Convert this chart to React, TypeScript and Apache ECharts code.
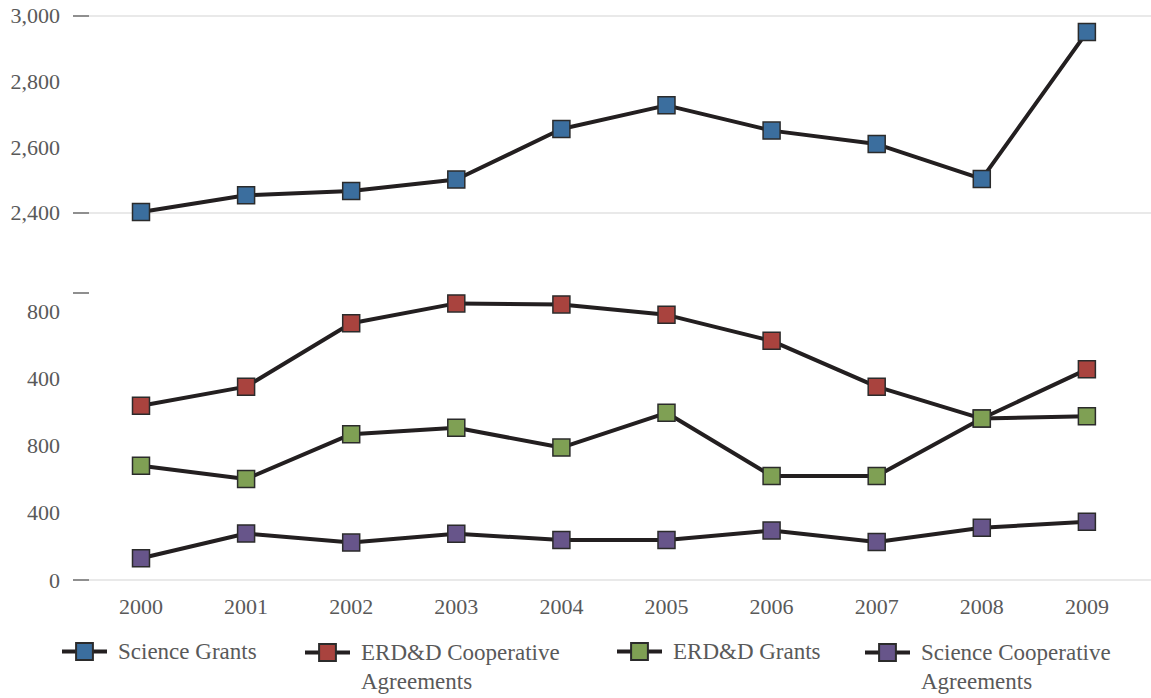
import React, { useEffect, useRef } from "react";
import * as echarts from "echarts";

const years = [2000, 2001, 2002, 2003, 2004, 2005, 2006, 2007, 2008, 2009];
const scienceGrants = [2402, 2453, 2466, 2501, 2655, 2727, 2650, 2609, 2503, 2950];
const erddCoop = [1038, 1152, 1530, 1648, 1642, 1580, 1425, 1152, 962, 1255];
const erddGrants = [681, 602, 869, 907, 789, 996, 620, 620, 962, 976];
const scienceCoop = [130, 277, 223, 275, 239, 239, 295, 227, 311, 347];

const upperTickValues = [2400, 2600, 2800, 3000];
const lowerTickValues = [0, 400, 800, 1200, 1600];
const lowerTickLabels = ["0", "400", "800", "400", "800"];

const seriesNames = [
  "Science Grants",
  "ERD&D Cooperative Agreements",
  "ERD&D Grants",
  "Science Cooperative Agreements",
];
const seriesColors = ["#3b6e9e", "#a9433e", "#7fa054", "#67558a"];

const FONT = "Liberation Serif";
const TEXT_COLOR = "#595959";
const GRID_COLOR = "#e2e2e2";
const TICK_COLOR = "#8f8f8f";
const LINE_COLOR = "#231f20";

const fmt = (v: number) => v.toLocaleString("en-US");

export default function App() {
  const ref = useRef<HTMLDivElement>(null);

  useEffect(() => {
    if (!ref.current) return;
    const chart = echarts.init(ref.current, undefined, { renderer: "svg" });

    const allData = [scienceGrants, erddCoop, erddGrants, scienceCoop];

    const makeSeries = (i: number) => ({
      name: seriesNames[i],
      type: "line",
      xAxisIndex: i === 0 ? 0 : 1,
      yAxisIndex: i === 0 ? 0 : 1,
      data: years.map((y, k) => [y, allData[i][k]]),
      symbol: "rect",
      symbolSize: 17,
      lineStyle: { color: LINE_COLOR, width: 4 },
      itemStyle: { color: seriesColors[i], borderColor: "#2b2b2b", borderWidth: 1.5 },
      z: 2 + i,
    });

    const legendLefts = [60, 303, 615, 863];
    const twoLine = [false, true, false, true];
    const legends = seriesNames.map((name, i) => ({
      data: [name],
      left: legendLefts[i],
      top: twoLine[i] ? 609 : 637,
      padding: 0,
      itemWidth: 45,
      itemHeight: 21,
      lineStyle: { color: LINE_COLOR, width: 4 },
      formatter: (n: string) =>
        n === "ERD&D Cooperative Agreements"
          ? "\nERD&D Cooperative\nAgreements"
          : n === "Science Cooperative Agreements"
          ? "\nScience Cooperative\nAgreements"
          : n,
      textStyle: {
        fontFamily: FONT,
        fontSize: 23,
        color: TEXT_COLOR,
        lineHeight: 29,
        padding: [0, 0, 0, 6],
      },
      selectedMode: false,
    }));

    const xMin = 1999.353;
    const xMax = 2009.61;

    const option: any = {
      animation: false,
      backgroundColor: "#ffffff",
      grid: [
        { left: 73, right: 0, top: 15.7, height: 197, containLabel: false },
        { left: 73, right: 0, top: 293, height: 287, containLabel: false },
      ],
      legend: legends,
      xAxis: [
        {
          type: "value",
          gridIndex: 0,
          min: xMin,
          max: xMax,
          show: false,
        },
        {
          type: "value",
          gridIndex: 1,
          min: xMin,
          max: xMax,
          axisLine: { show: false },
          axisTick: { show: false },
          splitLine: { show: false },
          axisLabel: {
            customValues: years,
            formatter: (v: number) => String(v),
            fontFamily: FONT,
            fontSize: 22,
            color: TEXT_COLOR,
            margin: 15,
          },
        },
      ],
      yAxis: [
        {
          type: "value",
          gridIndex: 0,
          min: 2400,
          max: 3000,
          interval: 200,
          axisLine: { show: false },
          axisTick: {
            show: true,
            inside: true,
            length: 16,
            customValues: [2400, 3000],
            lineStyle: { color: TICK_COLOR, width: 2 },
          },
          splitLine: { show: true, lineStyle: { color: GRID_COLOR, width: 1.5 } },
          axisLabel: {
            customValues: upperTickValues,
            formatter: (v: number) => fmt(v),
            fontFamily: FONT,
            fontSize: 22,
            color: TEXT_COLOR,
            margin: 13,
          },
        },
        {
          type: "value",
          gridIndex: 1,
          min: 0,
          max: 1710,
          interval: 400,
          axisLine: { show: false },
          axisTick: {
            show: true,
            inside: true,
            length: 16,
            customValues: [0, 1710],
            lineStyle: { color: TICK_COLOR, width: 2 },
          },
          splitLine: {
            show: true,
            showMaxLine: false,
            lineStyle: { color: GRID_COLOR, width: 1.5 },
          },
          axisLabel: {
            customValues: lowerTickValues,
            formatter: (v: number) => {
              const k = lowerTickValues.indexOf(v);
              return k >= 0 ? lowerTickLabels[k] : "";
            },
            fontFamily: FONT,
            fontSize: 22,
            color: TEXT_COLOR,
            margin: 13,
          },
        },
      ],
      series: [0, 1, 2, 3].map(makeSeries),
    };

    chart.setOption(option);
    return () => chart.dispose();
  }, []);

  return (
    <div
      ref={ref}
      style={{ position: "absolute", left: 0, top: 0, width: 1151, height: 698 }}
    />
  );
}
